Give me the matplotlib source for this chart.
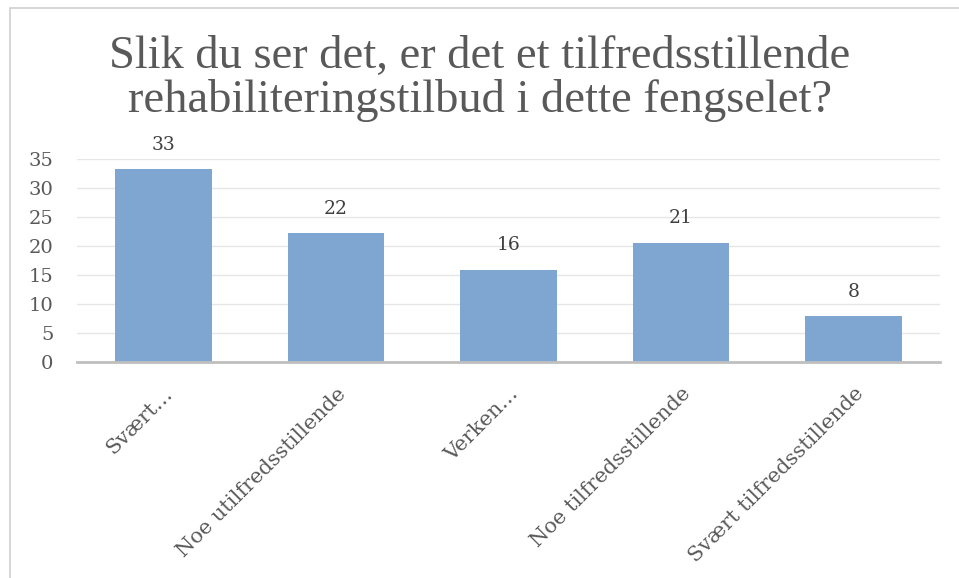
import matplotlib
matplotlib.use('Agg')
import matplotlib.pyplot as plt
from matplotlib.patches import Rectangle

# data
categories = ['Svært…', 'Noe utilfredsstillende', 'Verken…',
              'Noe tilfredsstillende', 'Svært tilfredsstillende']
values = [33.3, 22.2, 15.9, 20.6, 7.9]
labels = ['33', '22', '16', '21', '8']
yticks = [0, 5, 10, 15, 20, 25, 30, 35]
title_lines = ['Slik du ser det, er det et tilfredsstillende',
               'rehabiliteringstilbud i dette fengselet?']

serif = ['DejaVu Serif']
fig = plt.figure(figsize=(9.59, 5.78), dpi=100)
fig.patches.append(Rectangle((10 / 959, -0.01), 1.0, 1 - 8 / 578 + 0.01,
                             transform=fig.transFigure, fill=False,
                             edgecolor='#d0d0d0', linewidth=1.2))

ax = fig.add_axes([77 / 959, 1 - 362 / 578, 863 / 959, 203 / 578])
x = range(len(categories))
bars = ax.bar(x, values, width=0.56, color='#7ea6d0', zorder=2)
for b, lab in zip(bars, labels):
    ax.text(b.get_x() + b.get_width() / 2, b.get_height() + 4.2, lab,
            ha='center', va='center', fontsize=13.5, color='#404040',
            family=serif)

ax.set_xlim(-0.5, len(categories) - 0.5)
ax.set_ylim(0, 35)
ax.set_yticks(yticks)
ax.set_yticklabels([str(t) for t in yticks], fontsize=14, color='#595959',
                   family=serif)
ax.set_xticks(list(x))
ax.set_xticklabels(categories, rotation=45, ha='right', va='top',
                   rotation_mode='anchor', fontsize=15, color='#595959',
                   family=serif)
ax.tick_params(axis='both', length=0)
ax.tick_params(axis='x', pad=16)
ax.tick_params(axis='y', pad=17)
ax.grid(axis='y', color='#e6e6e6', linewidth=1, zorder=0)
for s in ['top', 'right', 'left']:
    ax.spines[s].set_visible(False)
ax.spines['bottom'].set_color('#bfbfbf')
ax.spines['bottom'].set_linewidth(2)
ax.spines['bottom'].set_zorder(3)

for line, base in zip(title_lines, [68, 112]):
    fig.text(0.5, 1 - base / 578, line, ha='center', va='baseline',
             fontsize=33.5, color='#595959', family=['Liberation Serif'])

fig.savefig('out.png', dpi=100)
